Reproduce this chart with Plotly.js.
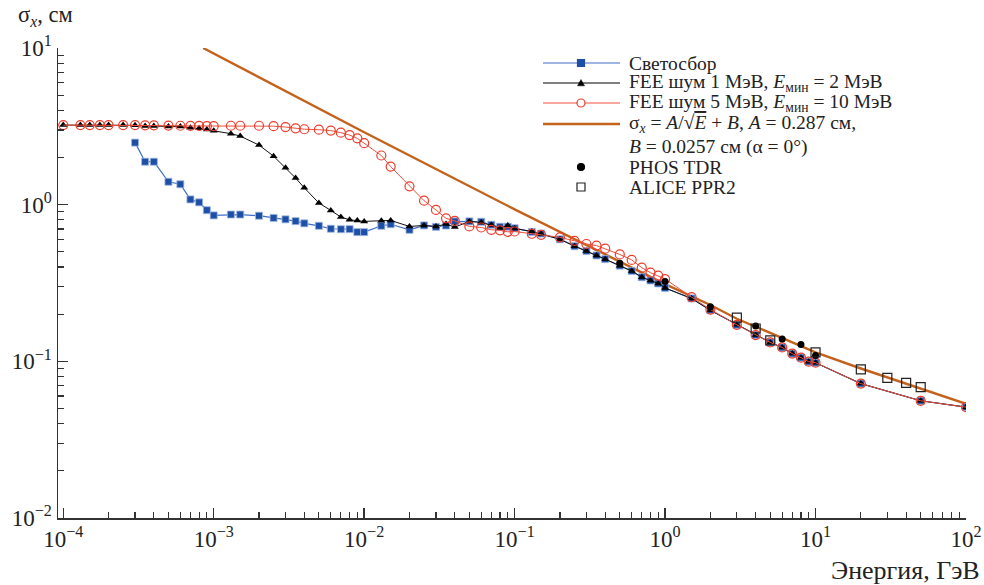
<!DOCTYPE html>
<html>
<head>
<meta charset="utf-8">
<script src="https://cdn.plot.ly/plotly-3.0.1.min.js"></script>
<style>html,body{margin:0;padding:0;background:#fff;}#chart{width:984px;height:585px;}</style>
</head>
<body>
<div id="chart"></div>
<script>
// ---- Data (energies in GeV, sigma_x in cm) ----
const lightE = [3e-4,3.5e-4,4e-4,5e-4,6e-4,7e-4,8e-4,9e-4,1e-3,1.3e-3,1.5e-3,2e-3,2.5e-3,3e-3,3.5e-3,4e-3,5e-3,6e-3,7e-3,8e-3,9e-3,1e-2,1.3e-2,1.5e-2,2e-2,2.5e-2,3e-2,3.5e-2,4e-2,5e-2,6e-2,7e-2,8e-2,9e-2,0.1,0.13,0.15,0.2,0.25,0.3,0.35,0.4,0.5,0.6,0.7,0.8,0.9,1,1.5,2,3,4,5,6,7,8,9,10,20,50,100];
const lightS = [2.49,1.88,1.88,1.40,1.35,1.08,1.035,0.922,0.854,0.865,0.865,0.850,0.823,0.806,0.785,0.760,0.733,0.702,0.697,0.698,0.668,0.668,0.733,0.750,0.691,0.737,0.721,0.736,0.782,0.782,0.778,0.744,0.723,0.723,0.707,0.669,0.654,0.601,0.543,0.506,0.474,0.449,0.408,0.377,0.344,0.328,0.314,0.294,0.252,0.212,0.171,0.147,0.132,0.1226,0.112,0.1056,0.0995,0.098,0.0721,0.056,0.051];

const fee1E = [1e-4,1.3e-4,1.5e-4,1.75e-4,2e-4,2.5e-4,3e-4,3.5e-4,4e-4,5e-4,6e-4,7e-4,8e-4,9e-4,1e-3,1.3e-3,1.5e-3,2e-3,2.5e-3,3e-3,3.5e-3,4e-3,5e-3,6e-3,7e-3,8e-3,9e-3,1e-2,1.3e-2,1.5e-2,2e-2,2.5e-2,3e-2,3.5e-2,4e-2,5e-2,6e-2,7e-2,8e-2,9e-2,0.1,0.13,0.15,0.2,0.25,0.3,0.35,0.4,0.5,0.6,0.7,0.8,0.9,1,1.5,2,3,4,5,6,7,8,9,10,20,50,100];
const fee1S = [3.22,3.22,3.22,3.22,3.22,3.22,3.21,3.18,3.18,3.16,3.15,3.10,3.07,3.02,2.96,2.84,2.74,2.40,2.04,1.72,1.48,1.28,1.025,0.919,0.834,0.800,0.793,0.782,0.790,0.793,0.726,0.737,0.726,0.752,0.719,0.782,0.770,0.741,0.709,0.737,0.705,0.674,0.649,0.601,0.543,0.506,0.474,0.449,0.408,0.377,0.344,0.328,0.314,0.294,0.252,0.212,0.171,0.147,0.132,0.1226,0.112,0.1056,0.0995,0.098,0.0721,0.056,0.051];

const fee5E = [1e-4,1.3e-4,1.5e-4,1.75e-4,2e-4,2.5e-4,3e-4,3.5e-4,4e-4,5e-4,6e-4,7e-4,8e-4,9e-4,1e-3,1.3e-3,1.5e-3,2e-3,2.5e-3,3e-3,3.5e-3,4e-3,5e-3,6e-3,7e-3,8e-3,9e-3,1e-2,1.3e-2,1.5e-2,2e-2,2.5e-2,3e-2,3.5e-2,4e-2,5e-2,6e-2,7e-2,8e-2,9e-2,0.1,0.13,0.15,0.2,0.25,0.3,0.35,0.4,0.5,0.6,0.7,0.8,0.9,1,1.5,2,3,4,5,6,7,8,9,10,20,50,100];
const fee5S = [3.22,3.22,3.22,3.22,3.22,3.22,3.22,3.21,3.21,3.20,3.19,3.18,3.18,3.17,3.17,3.19,3.19,3.19,3.17,3.13,3.07,3.03,3.01,2.97,2.88,2.78,2.65,2.47,2.06,1.75,1.31,1.06,0.925,0.818,0.787,0.726,0.715,0.691,0.686,0.671,0.674,0.652,0.642,0.619,0.588,0.561,0.548,0.524,0.481,0.444,0.396,0.368,0.352,0.335,0.257,0.214,0.171,0.147,0.132,0.1226,0.112,0.1056,0.0995,0.098,0.0721,0.056,0.051];

const fitE = [8.5e-4,1e-2,0.1,0.3,1,2,3,5,10,20,50,100];
const fitS = [10.0,2.90,0.933,0.55,0.311,0.229,0.187,0.152,0.114,0.090,0.0665,0.0535];

const phosE = [0.5,1,2,4,6,8,10];
const phosS = [0.423,0.323,0.223,0.168,0.139,0.128,0.109];

const aliceE = [3,4,5,10,20,30,40,50];
const aliceS = [0.190,0.162,0.136,0.114,0.0889,0.0785,0.0728,0.0684];

const xTickVals = [1e-4,1e-3,1e-2,1e-1,1e0,1e1,1e2];
const xTickText = ['10<sup>−4</sup>','10<sup>−3</sup>','10<sup>−2</sup>','10<sup>−1</sup>','10<sup>0</sup>','10<sup>1</sup>','10<sup>2</sup>'];
const yTickVals = [1e-2,1e-1,1e0,1e1];
const yTickText = ['10<sup>−2</sup>','10<sup>−1</sup>','10<sup>0</sup>','10<sup>1</sup>'];

const legendLabels = [
  'Светосбор',
  'FEE шум 1 МэВ, <i>E</i><sub>мин</sub> = 2 МэВ',
  'FEE шум 5 МэВ, <i>E</i><sub>мин</sub> = 10 МэВ',
  'σ<sub><i>x</i></sub> = <i>A</i>/√<span style="text-decoration:overline"><i>E</i></span> + <i>B</i>, <i>A</i> = 0.287 см,',
  '<i>B</i> = 0.0257 см (α = 0°)',
  'PHOS TDR',
  'ALICE PPR2'
];

// ---- Styling / layout ----
const FONT = 'Liberation Serif';
const C_LIGHT_LINE = '#3f6fc4', C_LIGHT_MK = '#1d4fa6';
const C_FEE1 = '#000000';
const C_FEE5 = '#ee3b2b';
const C_FIT = '#c4621c';

const W = 984, H = 585, ML = 58, MR = 18, MT = 48, MB = 67;
const PW = W - ML - MR, PH = H - MT - MB;
const px = x => (x - ML) / PW;      // pixel -> paper x
const py = y => (H - MB - y) / PH;  // pixel -> paper y

function minorVals(lo, hi) {
  const v = [];
  for (let p = lo; p < hi; p++) for (let k = 2; k <= 9; k++) v.push(k * Math.pow(10, p));
  return v;
}

const traces = [
  {x: fitE, y: fitS, mode: 'lines', line: {color: C_FIT, width: 2.4}},
  {x: lightE, y: lightS, mode: 'lines+markers',
   line: {color: C_LIGHT_LINE, width: 1.2},
   marker: {symbol: 'square', size: 7, color: C_LIGHT_MK, line: {color: '#9fb6e0', width: 0.8}}},
  {x: fee1E, y: fee1S, mode: 'lines+markers',
   line: {color: '#111', width: 1},
   marker: {symbol: 'triangle-up', size: 7, color: C_FEE1}},
  {x: fee5E, y: fee5S, mode: 'lines+markers',
   line: {color: '#f0503c', width: 1},
   marker: {symbol: 'circle-open', size: 9, color: C_FEE5, line: {width: 1.2}}},
  {x: phosE, y: phosS, mode: 'markers',
   marker: {symbol: 'circle', size: 7, color: '#000'}},
  {x: aliceE, y: aliceS, mode: 'markers',
   marker: {symbol: 'square-open', size: 9, color: '#222', line: {width: 1.2}}}
];

// ---- Manual legend (keys + labels) ----
const rowY = [63, 83, 103, 124, 147, 167, 187];
const keyX0 = 543, keyX1 = 620, keyXc = 581, textX = 627;
const shapes = [];
function hline(y, color, w) {
  shapes.push({type: 'line', xref: 'paper', yref: 'paper', x0: px(keyX0), x1: px(keyX1), y0: py(y), y1: py(y),
    line: {color: color, width: w}});
}
function rect(cx, cy, s, fill, lc) {
  shapes.push({type: 'rect', xref: 'paper', yref: 'paper', x0: px(cx - s), x1: px(cx + s), y0: py(cy - s), y1: py(cy + s),
    fillcolor: fill, line: {color: lc, width: 1.2}});
}
function circ(cx, cy, r, fill, lc) {
  shapes.push({type: 'circle', xref: 'paper', yref: 'paper', x0: px(cx - r), x1: px(cx + r), y0: py(cy - r), y1: py(cy + r),
    fillcolor: fill, line: {color: lc, width: 1.2}});
}
function tri(cx, cy, s, fill) {
  const p = `M${px(cx - s)},${py(cy + s * 0.8)} L${px(cx + s)},${py(cy + s * 0.8)} L${px(cx)},${py(cy - s)} Z`;
  shapes.push({type: 'path', xref: 'paper', yref: 'paper', path: p, fillcolor: fill, line: {color: fill, width: 0.5}});
}
hline(rowY[0], C_LIGHT_LINE, 1.2); rect(keyXc, rowY[0], 3.5, C_LIGHT_MK, C_LIGHT_MK);
hline(rowY[1], C_FEE1, 1); tri(keyXc, rowY[1], 3.5, C_FEE1);
hline(rowY[2], '#f0503c', 1); circ(keyXc, rowY[2], 4, '#ffffff', C_FEE5);
hline(rowY[3], C_FIT, 2.5);
circ(keyXc, rowY[5], 3.5, '#000000', '#000000');
rect(keyXc, rowY[6], 4, 'rgba(0,0,0,0)', '#222');

const annotations = legendLabels.map((t, i) => ({
  xref: 'paper', yref: 'paper', x: px(textX), y: py(rowY[i]), xanchor: 'left', yanchor: 'middle',
  text: t, showarrow: false, font: {family: FONT, size: 19.5, color: '#222'}
}));
annotations.push(
  {xref: 'paper', yref: 'paper', x: px(16), y: py(16), xanchor: 'left', yanchor: 'middle',
   text: 'σ<sub><i>x</i></sub>, см', showarrow: false, font: {family: FONT, size: 22.5, color: '#222'}},
  {xref: 'paper', yref: 'paper', x: px(982), y: py(570), xanchor: 'right', yanchor: 'middle',
   text: 'Энергия, ГэВ', showarrow: false, font: {family: FONT, size: 26, color: '#222'}}
);

const axisCommon = {
  type: 'log', showgrid: false, zeroline: false, showline: true,
  linecolor: '#333', linewidth: 1.5, ticks: 'inside', ticklen: 10, tickwidth: 1.5,
  tickcolor: '#333', tickmode: 'array',
  tickfont: {family: FONT, size: 23, color: '#222'}
};

const layout = {
  width: W, height: H,
  margin: {l: ML, r: MR, t: MT, b: MB},
  paper_bgcolor: '#fff', plot_bgcolor: '#fff',
  font: {family: FONT, color: '#222'},
  showlegend: false,
  xaxis: Object.assign({}, axisCommon, {
    range: [-4.035, 2], tickvals: xTickVals, ticktext: xTickText,
    minor: {tickvals: minorVals(-4, 2), ticks: 'inside', ticklen: 6, tickwidth: 1.2, tickcolor: '#333', showgrid: false}
  }),
  yaxis: Object.assign({}, axisCommon, {
    range: [-2, 1], tickvals: yTickVals, ticktext: yTickText,
    minor: {tickvals: minorVals(-2, 1), ticks: 'inside', ticklen: 6, tickwidth: 1.2, tickcolor: '#333', showgrid: false}
  }),
  shapes: shapes,
  annotations: annotations
};

Plotly.newPlot('chart', traces, layout, {displayModeBar: false, staticPlot: true});
</script>
</body>
</html>
